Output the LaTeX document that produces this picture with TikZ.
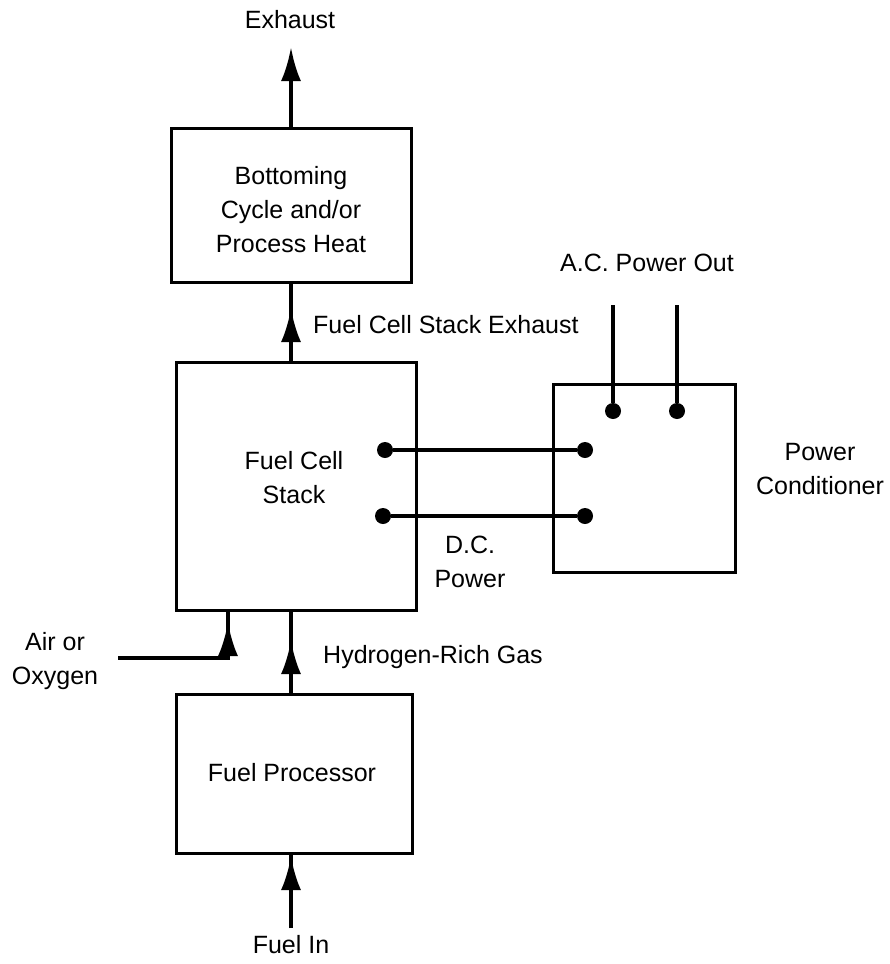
\documentclass[tikz,border=0pt]{standalone}
\usepackage{fontspec}
\setmainfont{Liberation Sans}
\usetikzlibrary{arrows.meta,calc}
\begin{document}
\begin{tikzpicture}[x=1pt,y=-1pt,
  box/.style={draw,line width=3pt,inner sep=0pt},
  lbl/.style={font=\fontsize{25}{34}\selectfont,align=center,inner sep=0pt},
  flow/.style={line width=4pt},
  tip/.style={line width=4pt,-{Latex[length=34pt,width=20pt]}},
  dot/.style={circle,fill,inner sep=0pt,minimum size=16pt}]
\useasboundingbox (0,0) rectangle (890,964);
% boxes
\node[box,minimum width=240pt,minimum height=154pt] (bott) at (291,205) {};
\node[box,minimum width=240pt,minimum height=248pt] (stack) at (296,486) {};
\node[box,minimum width=236pt,minimum height=159pt] (proc) at (294,773.5) {};
\node[box,minimum width=182pt,minimum height=188pt] (pc) at (644,478) {};
% labels
\node[lbl] (lexh) at (290,20) {Exhaust};
\node[lbl] at (291,210) {Bottoming\\Cycle and/or\\Process Heat};
\node[lbl,anchor=west] (lfcse) at (313,325) {Fuel Cell Stack Exhaust};
\node[lbl] at (294,478) {Fuel Cell\\Stack};
\node[lbl] (lac) at (647,263) {A.C. Power Out};
\node[lbl] at (820,469) {Power\\Conditioner};
\node[lbl] at (470,562) {D.C.\\Power};
\node[lbl] at (55,661) {Air or\\Oxygen};
\node[lbl,anchor=west] at (323,657) {Hydrogen-Rich Gas};
\node[lbl] at (292,773) {Fuel Processor};
\node[lbl] (lfin) at (291,945) {Fuel In};
% exhaust
\coordinate (exTop) at (291,47);
\draw[tip] (bott.south |- bott.north) -- (exTop);
% stack -> bottoming
\coordinate (sN) at (291,362);
\draw[flow] (sN) -- (sN |- bott.south);
\draw[tip] (sN) -- (291,308);
% processor -> stack
\coordinate (pN) at (291,694);
\draw[flow] (pN) -- (pN |- stack.south);
\draw[tip] (pN) -- (291,640);
% air
\coordinate (airIn) at (118,658);
\coordinate (airUp) at (228,610);
\draw[flow] (airIn) -| (airUp);
\draw[tip] (228,658) -- (228,622);
% fuel in
\coordinate (fIn) at (291,928);
\draw[flow] (fIn) -- (fIn |- proc.south);
\draw[tip] (fIn) -- (291,856);
% DC connections
\node[dot] (d1) at (385,450) {};
\node[dot] (d2) at (585,450) {};
\node[dot] (d3) at (383,516) {};
\node[dot] (d4) at (585,516) {};
\draw[line width=3.5pt] (d1) -- (d2);
\draw[line width=3.5pt] (d3) -- (d4);
% AC connections
\node[dot] (a1) at (613,411) {};
\node[dot] (a2) at (677,411) {};
\coordinate (a1t) at (613,305);
\coordinate (a2t) at (677,305);
\draw[line width=3.5pt] (a1) -- (a1t);
\draw[line width=3.5pt] (a2) -- (a2t);
\end{tikzpicture}
\end{document}
